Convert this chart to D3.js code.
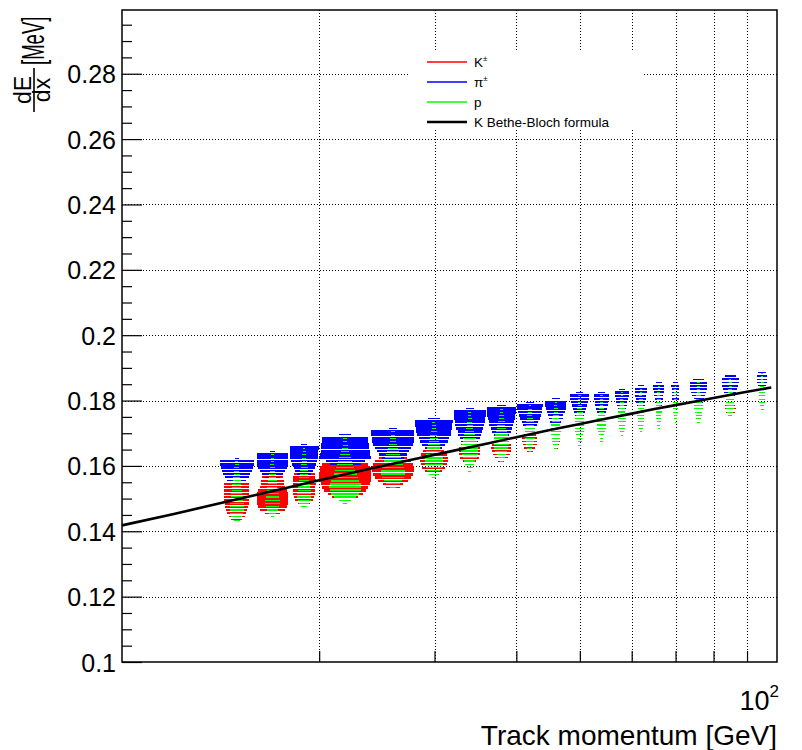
<!DOCTYPE html>
<html>
<head>
<meta charset="utf-8">
<script src="https://cdn.jsdelivr.net/npm/d3@7"></script>
<style>
  body { margin: 0; background: #fff; }
  svg { font-family: "Liberation Sans", Arial, Helvetica, sans-serif; }
</style>
</head>
<body>
<svg id="chart" width="802" height="750"></svg>
<script>
// momentum bin edges [GeV]
const momentumEdges = [14, 16, 18, 20, 24, 28, 32, 36, 40, 44, 48, 52, 56, 60, 64, 68, 72, 80, 90, 100];
// dE/dx bin width [MeV]
const dedxBin = 0.001;

// for every momentum bin: low edge of the highest filled dE/dx bin, then contents going down
const kaonTop = [0.154, 0.157, 0.158, 0.161, 0.163, 0.164, 0.166, 0.167, 0.169, 0.170, 0.172,
                 0.172, 0.173, 0.174, 0.175, 0.176, 0.177, 0.178, 0.180];
const kaonCounts = [
  [44, 44, 44, 44, 44, 42, 40, 36, 32, 26, 18, 8],
  [30, 42, 46, 49, 55, 72, 85, 90, 90, 85, 72, 52, 20],
  [36, 49, 56, 58, 58, 56, 55, 52, 45, 34, 16],
  [49, 81, 92, 96, 100, 100, 96, 90, 81, 67, 46, 25, 6],
  [25, 42, 64, 81, 88, 88, 81, 67, 45, 20, 9],
  [30, 46, 55, 55, 49, 36, 20, 6],
  [25, 38, 41, 38, 30, 16, 4],
  [25, 38, 45, 42, 34, 18, 4],
  [20, 30, 30, 25, 16, 6],
  [9, 11, 11, 9, 6, 2],
  [2, 4, 2],
  [], [], [], [], [], [],
  [9, 10, 8],
  []
];

const pionTop = [0.162, 0.164, 0.166, 0.169, 0.171, 0.174, 0.177, 0.178, 0.179, 0.180,
                 0.182, 0.182, 0.183, 0.184, 0.185, 0.185, 0.186, 0.187, 0.188];
const pionCounts = [
  [1, 81, 81, 72, 64, 52, 40, 25],
  [2, 90, 88, 85, 81, 72, 58, 40, 20],
  [4, 92, 90, 88, 85, 78, 64, 49, 36, 20],
  [5, 81, 81, 85, 88, 90, 95, 100, 56, 36, 16],
  [4, 96, 96, 94, 90, 81, 69, 56, 42, 25, 12],
  [9, 100, 96, 90, 85, 77, 64, 52, 36, 20, 9],
  [6, 92, 92, 86, 81, 72, 64, 52, 45, 36, 25, 12],
  [9, 94, 92, 86, 81, 72, 64, 52, 38, 25, 14, 6],
  [9, 90, 86, 77, 64, 52, 38, 25, 12, 4],
  [9, 74, 71, 61, 49, 38, 30, 20, 12, 6],
  [9, 69, 64, 56, 46, 36, 25, 16, 9],
  [11, 54, 50, 43, 36, 28, 19, 11],
  [11, 48, 46, 41, 32, 24, 17, 11],
  [11, 46, 43, 37, 30, 23, 17, 11],
  [11, 38, 36, 32, 26, 22, 16, 11],
  [11, 24, 23, 22, 19, 16, 12, 10, 6],
  [14, 34, 32, 30, 24, 17, 11, 7],
  [11, 26, 25, 22, 17, 12, 7],
  [7, 13, 13, 11, 8, 6]
];

const protonTop = [0.161, 0.163, 0.165, 0.168, 0.170, 0.173, 0.176, 0.177, 0.178, 0.179,
                   0.181, 0.181, 0.182, 0.183, 0.184, 0.184, 0.185, 0.186, 0.188];
const protonCounts = [
  [0.6, 1, 1.4, 2, 2.6, 3.2, 4, 5, 6, 7, 8, 10, 11, 13, 14, 14, 12, 8, 2.5],
  [0.4, 0.6, 1, 1.4, 2, 2.6, 3.6, 4.8, 6, 7.5, 9, 11, 14, 16, 18, 18, 16, 12, 5, 1],
  [0.6, 1, 1.4, 2, 2.9, 4, 5, 6.5, 8, 10, 12, 15, 17, 19, 21, 21, 18, 11, 4],
  [0.4, 0.6, 1, 1.4, 2.3, 3.2, 4.8, 6.8, 9, 12, 16, 20, 25, 30, 36, 38, 36, 30, 18, 4.8, 0.6],
  [0.6, 1, 1.4, 2.3, 3.2, 4.8, 6.8, 9, 12, 16, 20, 25, 28, 28, 25, 18, 9, 1.4],
  [0.6, 1, 1.4, 2.3, 3.2, 4.8, 6.8, 9, 12, 16, 19, 22, 23, 22, 18, 12, 6, 1.4],
  [0.6, 1, 1.4, 2.3, 3.2, 4.8, 7.3, 10, 14, 18, 21, 25, 25, 23, 18, 12, 7.3, 3.2, 1],
  [1, 1.4, 2.3, 3.2, 4.8, 7.3, 10, 14, 18, 21, 25, 25, 22, 16, 10, 4.8, 1.4],
  [1, 1.4, 2.3, 3.2, 4.8, 7.3, 10, 13, 14, 14, 13, 10, 6.8, 3.2, 1],
  [1, 1.4, 2.3, 3.2, 4.8, 7.3, 10, 13, 16, 16, 14, 12, 7.8, 4, 1.4],
  [1, 1.4, 2.3, 3.2, 4.8, 7.3, 10, 14, 18, 18, 18, 14, 10, 6, 3.2, 1],
  [1, 1.4, 2.3, 3.2, 4.8, 7.8, 12, 16, 18, 18, 16, 12, 7.8, 3.2, 1],
  [1, 1.4, 2.3, 3.2, 4.8, 7.8, 12, 16, 16, 14, 11, 7.3, 4, 1.4],
  [1, 1.4, 2.3, 3.2, 4.8, 7.3, 11, 14, 14, 13, 10, 6.8, 3.6, 1.4],
  [1, 1.4, 2.3, 3.2, 4.8, 7.3, 10, 12, 12, 10, 7.3, 4.8, 2.3, 1],
  [1, 1.4, 2.3, 3.2, 4.8, 6.8, 9, 9, 7.3, 4.8, 2.3, 1],
  [0.5, 0.7, 1, 1.4, 2.3, 4, 6, 7.8, 7.8, 6, 4, 2, 0.8],
  [0.5, 0.7, 1, 1.4, 2.3, 4, 5.3, 6.3, 6.3, 5.3, 3.2, 1.4],
  [0.5, 0.6, 0.8, 1, 1.6, 2.5, 3.6, 4, 4, 3.2, 2, 1]
];

// kaon Bethe-Bloch curve
const bbMomentum = [10, 12, 14, 16, 18, 20, 24, 28, 32, 36, 40, 45, 50, 55, 60, 65, 70, 75, 80, 85, 90, 98];
const bbDedx = [0.1418, 0.1453, 0.1484, 0.1511, 0.1535, 0.1556, 0.1592, 0.1621, 0.1646, 0.1668, 0.1688,
                0.1710, 0.1728, 0.1745, 0.1760, 0.1774, 0.1786, 0.1797, 0.1808, 0.1818, 0.1827, 0.1840];

const yTicks = [0.1, 0.12, 0.14, 0.16, 0.18, 0.2, 0.22, 0.24, 0.26, 0.28];
const xGridTicks = [20, 30, 40, 50, 60, 70, 80, 90];

const legendLabels = ["K", "\u03c0", "p", "K Bethe-Bloch formula"];
const legendSup = ["\u00b1", "\u00b1", "", ""];
const legendColors = ["#ff0000", "#0000ff", "#00ff00", "#000000"];

// frame
const frame = { left: 122, right: 777, top: 10, bottom: 662 };

const svg = d3.select("#chart");

const x = d3.scaleLog().domain([10, 100]).range([frame.left, frame.right]);
const y = d3.scaleLinear().domain([0.1, 0.2995]).range([frame.bottom, frame.top]);
// ROOT BOX option: box side ~ sqrt(content)
const boxScale = d3.scaleSqrt().domain([0, 100]).range([0, 1]);

// grid
const grid = svg.append("g")
    .attr("stroke", "#000")
    .attr("stroke-width", 1)
    .attr("stroke-dasharray", "1,2")
    .attr("shape-rendering", "crispEdges");

grid.selectAll(".vgrid")
    .data(xGridTicks)
    .join("line")
    .attr("x1", d => Math.round(x(d)) + 0.5)
    .attr("x2", d => Math.round(x(d)) + 0.5)
    .attr("y1", frame.top)
    .attr("y2", frame.bottom);

grid.selectAll(".hgrid")
    .data(yTicks.slice(1))
    .join("line")
    .attr("x1", frame.left)
    .attr("x2", frame.right)
    .attr("y1", d => Math.round(y(d)) + 0.5)
    .attr("y2", d => Math.round(y(d)) + 0.5);

// turn top/counts arrays into box cells
function cells(tops, counts) {
    const out = [];
    counts.forEach((col, i) => {
        col.forEach((c, j) => {
            const lo = +(tops[i] - j * dedxBin).toFixed(4);
            out.push({ p0: momentumEdges[i], p1: momentumEdges[i + 1], lo: lo, hi: lo + dedxBin, c: c });
        });
    });
    return out;
}

function drawBoxes(data, color) {
    svg.append("g")
        .attr("fill", color)
        .attr("shape-rendering", "crispEdges")
        .selectAll("rect")
        .data(data)
        .join("rect")
        .each(function (d) {
            const r = boxScale(d.c);
            const xc = (x(d.p0) + x(d.p1)) / 2;
            const yc = (y(d.lo) + y(d.hi)) / 2;
            const hw = r * (x(d.p1) - x(d.p0)) / 2;
            const hh = r * (y(d.lo) - y(d.hi)) / 2;
            const x0 = Math.round(xc - hw), x1 = Math.max(x0 + 1, Math.round(xc + hw));
            const y0 = Math.round(yc - hh), y1 = Math.max(y0 + 1, Math.round(yc + hh));
            d3.select(this)
                .attr("x", x0)
                .attr("y", y0)
                .attr("width", x1 - x0)
                .attr("height", y1 - y0);
        });
}

drawBoxes(cells(kaonTop, kaonCounts), legendColors[0]);
drawBoxes(cells(pionTop, pionCounts), legendColors[1]);
drawBoxes(cells(protonTop, protonCounts), legendColors[2]);

// Bethe-Bloch line
const bb = bbMomentum.map((p, i) => [p, bbDedx[i]]);
svg.append("path")
    .datum(bb)
    .attr("fill", "none")
    .attr("stroke", "#000")
    .attr("stroke-width", 2.6)
    .attr("d", d3.line().x(d => x(d[0])).y(d => y(d[1])));

// legend
const legend = svg.append("g");
legend.append("rect")
    .attr("x", 410).attr("y", 50)
    .attr("width", 233).attr("height", 80)
    .attr("fill", "#fff");

const rows = legend.selectAll(".row")
    .data(legendLabels)
    .join("g")
    .attr("transform", (d, i) => `translate(427, ${62 + i * 20})`);

rows.append("line")
    .attr("x1", 0).attr("x2", 40)
    .attr("stroke", (d, i) => legendColors[i])
    .attr("stroke-width", (d, i) => i === 3 ? 2.5 : 1.3);

const rowText = rows.append("text")
    .attr("x", 47)
    .attr("y", 5)
    .attr("font-size", 13.5)
    .attr("fill", "#000")
    .text(d => d);
rowText.append("tspan")
    .attr("font-size", 8)
    .attr("dy", -6)
    .text((d, i) => legendSup[i]);

// axes
const yAxis = d3.axisLeft(y)
    .tickValues(yTicks)
    .tickSize(-20)
    .tickPadding(6)
    .tickFormat(d3.format("~g"));

const yMinor = d3.axisLeft(y)
    .tickValues(d3.range(0.105, 0.2995, 0.005).filter(v => Math.abs(v * 50 - Math.round(v * 50)) > 1e-6))
    .tickSize(-10)
    .tickFormat("");

const gy = svg.append("g")
    .attr("transform", `translate(${frame.left},0)`)
    .call(yAxis);
gy.selectAll("text")
    .attr("font-size", 25)
    .attr("font-family", "Liberation Sans, Arial, sans-serif")
    .attr("fill", "#000")
    .attr("dy", "0.36em");
gy.select(".domain").remove();
gy.selectAll("line").attr("stroke", "#000").attr("stroke-width", 1.2);

svg.append("g")
    .attr("transform", `translate(${frame.left},0)`)
    .call(yMinor)
    .call(g => g.select(".domain").remove())
    .selectAll("line").attr("stroke", "#000").attr("stroke-width", 1.2);

const xAxis = d3.axisBottom(x)
    .tickValues(xGridTicks)
    .tickSize(-11)
    .tickFormat("");

svg.append("g")
    .attr("transform", `translate(0,${frame.bottom})`)
    .call(xAxis)
    .call(g => g.select(".domain").remove())
    .selectAll("line").attr("stroke", "#000").attr("stroke-width", 1.2);

// frame
svg.append("rect")
    .attr("x", frame.left).attr("y", frame.top)
    .attr("width", frame.right - frame.left)
    .attr("height", frame.bottom - frame.top)
    .attr("fill", "none")
    .attr("stroke", "#000")
    .attr("stroke-width", 1.5);

// x label 10^2
const x100 = svg.append("text")
    .attr("x", x(100) + 2)
    .attr("y", 710)
    .attr("text-anchor", "end")
    .attr("font-size", 27)
    .text("10");
x100.append("tspan")
    .attr("font-size", 17)
    .attr("dy", -13)
    .text("2");

// axis titles
svg.append("text")
    .attr("x", frame.right)
    .attr("y", 745)
    .attr("text-anchor", "end")
    .attr("font-size", 28)
    .text("Track momentum [GeV]");

const ytitle = svg.append("g").attr("transform", "rotate(-90)");
ytitle.append("text")
    .attr("x", -90).attr("y", 31)
    .attr("text-anchor", "middle")
    .attr("font-size", 23)
    .text("dE");
ytitle.append("text")
    .attr("x", -90).attr("y", 50)
    .attr("text-anchor", "middle")
    .attr("font-size", 23)
    .text("dx");
ytitle.append("line")
    .attr("x1", -112).attr("x2", -68)
    .attr("y1", 34).attr("y2", 34)
    .attr("stroke", "#000")
    .attr("stroke-width", 1.6);
// [MeV] is drawn tall but squeezed along the axis, as in the original
ytitle.append("g")
    .attr("transform", "translate(-65,44) scale(0.58,1)")
    .append("text")
    .attr("x", 0).attr("y", 0)
    .attr("font-size", 32)
    .text("[MeV]");
</script>
</body>
</html>
